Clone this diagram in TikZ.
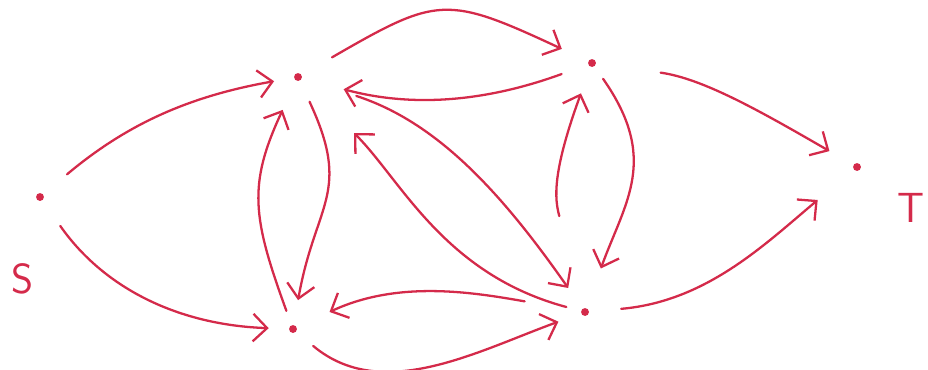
\documentclass[tikz,border=0pt]{standalone}
\usepackage{xcolor}
\usetikzlibrary{arrows.meta}
\definecolor{inkred}{HTML}{D42A4A}

\begin{document}
\begin{tikzpicture}[
    dot/.style={circle, fill=inkred, inner sep=0pt, minimum size=4.5pt},
    lbl/.style={font=\sffamily\fontsize{24}{26}\selectfont, text=inkred},
    link/.style={-{Straight Barb[length=2.8mm, width=5.5mm]}, line width=1.3pt,
                 inkred, line cap=round}
  ]
  \useasboundingbox (0,0) rectangle (18.56,7.38);

  \node[dot] (S) at (0.80,3.44)  {};
  \node[dot] (A) at (5.96,5.84)  {};
  \node[dot] (B) at (11.84,6.12) {};
  \node[dot] (C) at (5.86,0.80)  {};
  \node[dot] (D) at (11.70,1.14) {};
  \node[dot] (T) at (17.14,4.04) {};
  \node[lbl] (lblS) at (0.46,1.80)  {S};
  \node[lbl] (lblT) at (18.22,3.22) {T};

  % source and sink
  \draw[link, shorten <=0.62cm, shorten >=0.4cm]  (S) to[out=40, in=190] (A);
  \draw[link, shorten <=0.62cm, shorten >=0.4cm]  (S) to[out=-55, in=178] (C);
  \draw[link, shorten <=1.3cm, shorten >=0.55cm]  (B) to[out=-8, in=150] (T);
  \draw[link, shorten <=0.64cm, shorten >=0.94cm] (D) to[out=5, in=220] (T);

  % pairs in both directions
  \draw[link, shorten <=0.7cm, shorten >=0.58cm]  (A) to[out=30, in=155, looseness=1.4] (B);
  \draw[link, shorten <=0.56cm, shorten >=0.86cm] (B) to[out=200, in=-15] (A);
  \draw[link, shorten <=0.3cm, shorten >=0.64cm]  (C) to[out=110, in=245, looseness=1.2] (A);
  \draw[link, shorten <=0.46cm, shorten >=0.5cm]  (A) to[out=-65, in=80, looseness=1.3] (C);
  \draw[link, shorten <=0.3cm, shorten >=0.84cm]  (B) to[out=-55, in=70, looseness=1.2] (D);
  \draw[link, shorten <=1.9cm, shorten >=0.56cm]  (D) to[out=105, in=250, looseness=1.2] (B);
  \draw[link, shorten <=1.14cm, shorten >=0.72cm] (D) to[out=170, in=25] (C);
  \draw[link, shorten <=0.44cm, shorten >=0.48cm] (C) to[out=-40, in=200] (D);

  % diagonals
  \draw[link, shorten <=1.14cm, shorten >=0.5cm]  (A) to[out=-18, in=125] (D);
  \draw[link, shorten <=0.3cm, shorten >=1.5cm]   (D) to[out=165, in=-45] (A);
\end{tikzpicture}
\end{document}
